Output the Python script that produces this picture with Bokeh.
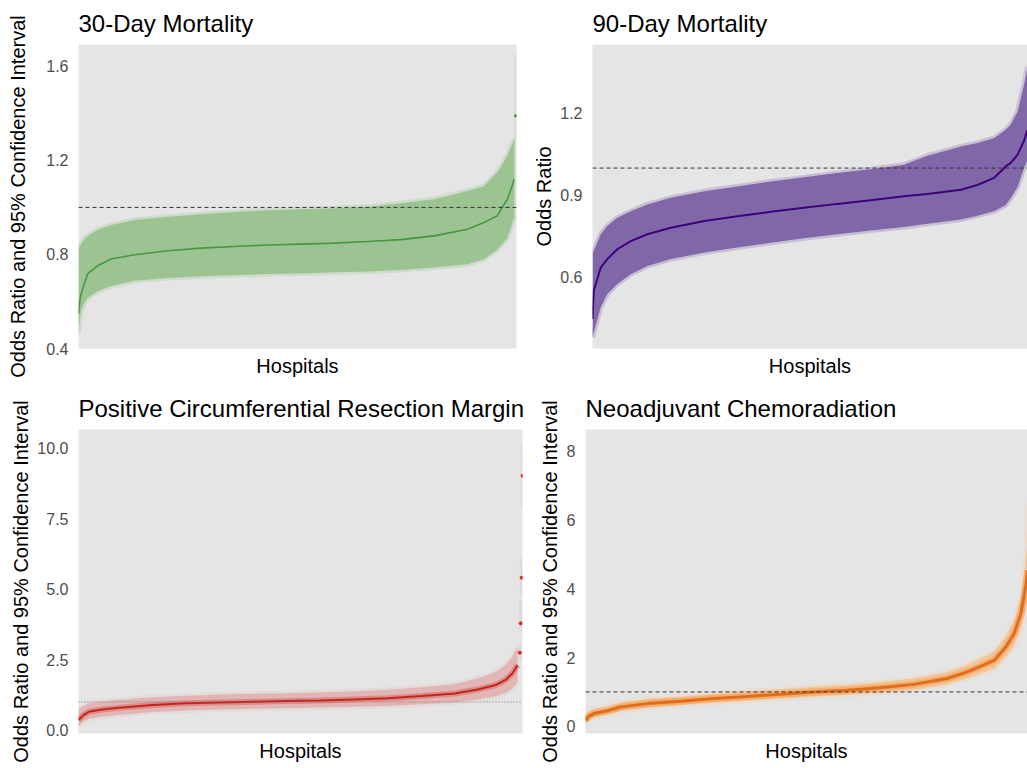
from bokeh.plotting import figure
from bokeh.models import Range1d, Span, FixedTicker, NumeralTickFormatter
from bokeh.layouts import column, row
from bokeh.embed import file_html
from bokeh.resources import INLINE

FONT = "Liberation Sans"
REF_OR = 1.0

# ---------------- 30-Day Mortality ----------------
m30_rank = [0, 0.3, 0.6, 1.2, 2.1, 4.4, 7.4, 12.8, 20.4, 28.0, 35.6, 43.2, 50.8, 58.4,
            66.0, 73.6, 81.2, 88.8, 92.6, 95.6, 96.7, 97.9, 99.0, 99.5]
m30_or = [0.548, 0.603, 0.633, 0.667, 0.718, 0.752, 0.781, 0.799, 0.816, 0.827, 0.834, 0.840,
          0.844, 0.848, 0.855, 0.863, 0.879, 0.907, 0.936, 0.964, 0.999, 1.035, 1.091, 1.12]
m30_lo = [0.464, 0.52, 0.56, 0.59, 0.615, 0.645, 0.665, 0.688, 0.700, 0.707, 0.712, 0.717,
          0.719, 0.724, 0.728, 0.734, 0.745, 0.758, 0.78, 0.82, 0.845, 0.87, 0.93, 0.96]
m30_hi = [0.828, 0.835, 0.845, 0.862, 0.879, 0.905, 0.925, 0.947, 0.960, 0.971, 0.981, 0.988,
          0.992, 0.997, 1.003, 1.018, 1.035, 1.07, 1.09, 1.15, 1.18, 1.22, 1.27, 1.29]
m30_out_rank = [99.8]
m30_out_or = [1.39]
m30_out_lo = [0.95]
m30_out_hi = [1.65]
m30_ticks = [0.4, 0.8, 1.2, 1.6]

# ---------------- 90-Day Mortality ----------------
m90_rank = [0, 0.3, 1.9, 3.4, 5.7, 8.8, 12.6, 18.0, 25.7, 33.3, 41.0, 48.6, 56.3, 63.9,
            71.6, 77.0, 84.7, 88.5, 92.3, 95.0, 96.2, 97.7, 99.2, 100]
m90_or = [0.448, 0.552, 0.636, 0.667, 0.703, 0.733, 0.758, 0.782, 0.806, 0.824, 0.840, 0.855,
          0.869, 0.882, 0.897, 0.905, 0.921, 0.938, 0.964, 1.006, 1.02, 1.048, 1.10, 1.139]
m90_lo = [0.38, 0.40, 0.491, 0.539, 0.576, 0.612, 0.642, 0.667, 0.691, 0.709, 0.727, 0.743,
          0.758, 0.772, 0.784, 0.796, 0.812, 0.826, 0.842, 0.865, 0.891, 0.93, 1.0, 1.03]
m90_hi = [0.69, 0.697, 0.758, 0.788, 0.818, 0.842, 0.867, 0.891, 0.915, 0.933, 0.951, 0.966,
          0.982, 0.996, 1.012, 1.045, 1.079, 1.092, 1.109, 1.14, 1.16, 1.206, 1.303, 1.37]
m90_ticks = [0.6, 0.9, 1.2]

# ------------- Positive Circumferential Resection Margin -------------
crm_rank = [0, 1.1, 2.3, 5.3, 9.1, 16.7, 24.2, 31.8, 39.4, 47.0, 54.5, 62.1, 69.7, 77.3,
            84.8, 90.2, 93.9, 96.2, 97.7, 98.9]
crm_or = [0.36, 0.53, 0.65, 0.73, 0.79, 0.89, 0.95, 0.98, 1.01, 1.03, 1.05, 1.09, 1.13, 1.21,
          1.30, 1.45, 1.60, 1.78, 2.01, 2.31]
crm_lo = [0.15, 0.30, 0.40, 0.48, 0.54, 0.64, 0.70, 0.73, 0.76, 0.78, 0.80, 0.83, 0.86, 0.92,
          0.98, 1.10, 1.20, 1.32, 1.48, 1.72]
crm_hi = [0.75, 0.85, 0.95, 1.02, 1.08, 1.17, 1.22, 1.26, 1.29, 1.31, 1.34, 1.38, 1.43, 1.52,
          1.64, 1.85, 2.05, 2.32, 2.60, 2.95]
crm_out_rank = [99.4, 99.6, 99.8, 100]
crm_out_or = [2.75, 3.79, 5.41, 9.03]
crm_out_lo = [2.45, 3.50, 4.80, 7.94]
crm_out_hi = [3.10, 4.62, 6.10, 10.19]
crm_ticks = [0.0, 2.5, 5.0, 7.5, 10.0]

# ---------------- Neoadjuvant Chemoradiation ----------------
ncr_rank = [0, 0.75, 1.9, 4.9, 7.9, 14.0, 21.5, 29.0, 36.6, 44.1, 51.7, 59.2, 66.7, 74.3,
            81.8, 84.9, 87.1, 92.5, 95.1, 97.0, 98.5, 99.2, 99.8, 100]
ncr_or = [0.17, 0.29, 0.37, 0.45, 0.56, 0.66, 0.73, 0.81, 0.87, 0.93, 1.00, 1.05, 1.12, 1.22,
          1.39, 1.52, 1.62, 1.92, 2.31, 2.70, 3.28, 3.77, 4.25, 4.54]
ncr_lo = [0.08, 0.18, 0.26, 0.34, 0.44, 0.54, 0.61, 0.68, 0.74, 0.80, 0.86, 0.91, 0.97, 1.06,
          1.21, 1.33, 1.42, 1.68, 2.02, 2.35, 2.85, 3.2, 3.5, 3.7]
ncr_hi = [0.33, 0.44, 0.51, 0.58, 0.70, 0.80, 0.87, 0.95, 1.02, 1.08, 1.16, 1.21, 1.29, 1.40,
          1.58, 1.72, 1.84, 2.18, 2.63, 3.08, 3.75, 4.4, 5.2, 6.5]
ncr_ticks = [0, 2, 4, 6, 8]


def panel(title, ylabel, rank, orv, lo, hi, ticks, fmt, yr, w, h, bl, br, bt, bb,
          lab_standoff, title_standoff, band_col, line_col, line_w, core_w=0,
          core_col=None, ref_dash="4 3", ref_col="#333333", halo=0.3):
    p = figure(width=w, height=h, x_range=Range1d(0, 100), y_range=Range1d(*yr),
               output_backend="svg", toolbar_location=None, title=title,
               min_border_left=bl, min_border_right=br, min_border_top=bt,
               min_border_bottom=bb)
    p.background_fill_color = "#e5e5e5"
    p.border_fill_color = "white"
    p.outline_line_color = None
    p.grid.visible = False
    p.title.text_font = FONT
    p.title.text_font_size = "24px"
    p.title.text_font_style = "normal"
    p.title.text_color = "black"
    p.title.align = "left"
    p.title.offset = 0
    p.title.standoff = title_standoff

    p.varea(x=rank, y1=lo, y2=hi, fill_color=band_col, fill_alpha=1.0)
    p.line(rank, hi, line_color=band_col, line_width=5, line_alpha=halo)
    p.line(rank, lo, line_color=band_col, line_width=5, line_alpha=halo)
    if core_w:
        p.line(rank, orv, line_color=core_col, line_width=core_w, line_alpha=0.55)
    p.line(rank, orv, line_color=line_col, line_width=line_w)

    p.add_layout(Span(location=REF_OR, dimension="width", line_color=ref_col,
                      line_dash=ref_dash, line_width=1))

    xa = p.xaxis[0]
    xa.ticker = FixedTicker(ticks=[])
    xa.axis_line_color = None
    xa.major_tick_line_color = None
    xa.minor_tick_line_color = None
    xa.major_label_standoff = 0
    xa.major_tick_out = 0
    xa.axis_label = "Hospitals"
    xa.axis_label_standoff = 6
    xa.axis_label_text_font = FONT
    xa.axis_label_text_font_size = "20px"
    xa.axis_label_text_font_style = "normal"
    xa.axis_label_text_color = "black"

    ya = p.yaxis[0]
    ya.ticker = FixedTicker(ticks=ticks)
    ya.formatter = NumeralTickFormatter(format=fmt)
    ya.axis_line_color = None
    ya.major_tick_line_color = None
    ya.minor_tick_line_color = None
    ya.major_tick_out = 0
    ya.major_label_standoff = 10
    ya.major_label_text_font = FONT
    ya.major_label_text_font_size = "16px"
    ya.major_label_text_color = "#4d4d4d"
    ya.axis_label = ylabel
    ya.axis_label_standoff = lab_standoff
    ya.axis_label_text_font = FONT
    ya.axis_label_text_font_size = "20px"
    ya.axis_label_text_font_style = "normal"
    ya.axis_label_text_color = "black"
    return p


YL = "Odds Ratio and 95% Confidence Interval"

p1 = panel("30-Day Mortality", YL, m30_rank, m30_or, m30_lo, m30_hi, m30_ticks, "0.0",
           (0.4, 1.693), 528, 384, 78, 12, 44, 36, 14, 15,
           "#9bc492", "#48963f", 1.6)
p1.vbar(x=m30_out_rank, width=0.7, bottom=m30_out_lo, top=m30_out_hi,
        fill_color="#9bc492", fill_alpha=0.25, line_color=None)
p1.scatter(m30_out_rank, m30_out_or, size=2.5, color="#48963f")

p2 = panel("90-Day Mortality", "Odds Ratio", m90_rank, m90_or, m90_lo, m90_hi, m90_ticks,
           "0.0", (0.34, 1.452), 499, 384, 64, 0, 44, 36, 2, 15,
           "#8068a8", "#3f007d", 2)

p3 = panel("Positive Circumferential Resection Margin", YL, crm_rank, crm_or, crm_lo, crm_hi,
           crm_ticks, "0.0", (-0.12, 10.67), 528, 384, 78, 6, 45, 35, 2, 16,
           "#e2b6b4", "#c8231e", 2, core_w=6, core_col="#d46a66",
           ref_dash="1 2", ref_col="#777777", halo=0.2)
p3.vbar(x=crm_out_rank, width=0.9, bottom=crm_out_lo, top=crm_out_hi,
        fill_color="#cc1f1f", fill_alpha=0.06, line_color=None)
p3.scatter(crm_out_rank, crm_out_or, size=3, color="#d7261f")

p4 = panel("Neoadjuvant Chemoradiation", YL, ncr_rank, ncr_or, ncr_lo, ncr_hi, ncr_ticks, "0",
           (-0.21, 8.64), 499, 384, 57, 0, 45, 35, 3, 16,
           "#f3c69a", "#e36c1a", 3, core_w=7, core_col="#ee9a50", halo=0.2)

layout = column(row(p1, p2), row(p3, p4))
open("out.html", "w").write(file_html(layout, INLINE))
